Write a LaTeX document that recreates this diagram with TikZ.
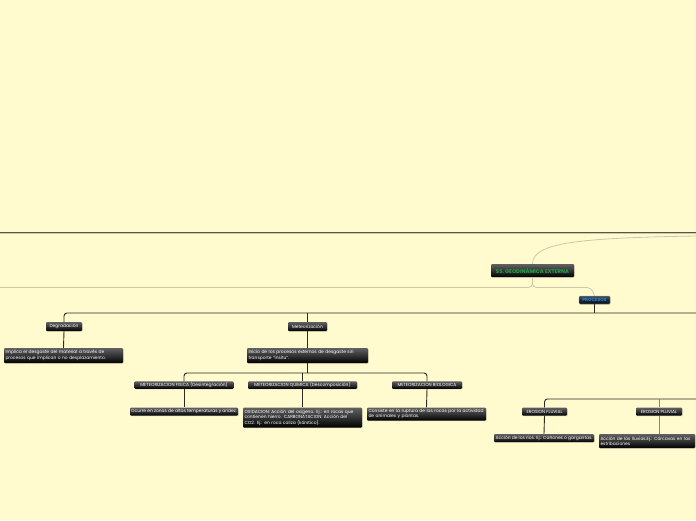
\documentclass[tikz,border=0pt]{standalone}
\usepackage{fontspec}
\setmainfont{Poppins}
\usetikzlibrary{shadows}
\hyphenpenalty=10000
\exhyphenpenalty=10000
\definecolor{bgc}{RGB}{255,251,206}
\definecolor{dline}{RGB}{45,44,34}
\definecolor{lline}{RGB}{204,200,168}
\definecolor{mline}{RGB}{140,136,112}
\definecolor{ssgreen}{RGB}{30,165,70}
\definecolor{procblue}{RGB}{40,130,205}
\definecolor{proctop}{RGB}{70,84,98}
\definecolor{procbot}{RGB}{12,18,26}
\tikzset{
  x=1pt, y=-1pt,
  box/.style={rectangle, rounded corners=1pt, inner sep=0pt, top color=black!62, bottom color=black, middle color=black!80,
    text=white, font=\fontsize{4.4}{5.4}\selectfont, align=left,
    drop shadow={opacity=0.35, shadow xshift=0.7pt, shadow yshift=-0.7pt}},
  wbox/.style={box, minimum width=#1, text width=#1-3pt},
  hbox/.style={box, minimum width=#1, align=center},
  darkln/.style={draw=dline, line width=0.9pt},
  lightln/.style={draw=lline, line width=0.8pt},
  midln/.style={draw=mline, line width=0.9pt},
}
\begin{document}
\begin{tikzpicture}
\fill[bgc] (0,0) rectangle (696,520);
\useasboundingbox (0,0) rectangle (696,520);

% top lines
\coordinate (tl) at (0,232);
\coordinate (tr) at (696,232);
\draw[draw=dline!80, line width=1pt] (tl) -- (tr);
\coordinate (tl2) at (0,233.6);
\coordinate (tr2) at (696,233.6);
\draw[lline, line width=0.6pt] (tl2) -- (tr2);

% nodes
\node[hbox=83pt, minimum height=13pt, text=ssgreen, font=\fontsize{5.3}{6}\selectfont\bfseries] (ss) at (532.5,270.5) {SS. GEODINÁMICA EXTERNA};
\node[hbox=31pt, minimum height=8pt, text=procblue, top color=proctop, bottom color=procbot, middle color=procbot!70!proctop, draw=proctop!60, line width=0.3pt, font=\fontsize{4.5}{5.4}\selectfont\bfseries] (proc) at (594.5,300) {PROCESOS};

\node[hbox=36pt, minimum height=9pt] (deg) at (64,326.5) {Degradación};
\node[wbox=119pt, minimum height=15pt] (degtxt) at (63.5,355.5) {Implica el desgaste del material a través de\\procesos que implican o no desplazamiento.};

\node[hbox=39pt, minimum height=9pt] (met) at (307.5,326.5) {Meteorización};
\node[wbox=121pt, minimum height=15pt] (mettxt) at (307.5,355.5) {Inicio de los procesos externos de desgaste sin\\transporte "insitu".};

\node[hbox=99pt, minimum height=7.5pt] (fis) at (184,385) {METEORIZACION FISICA (Desintegración)};
\node[hbox=108pt, minimum height=8pt] (fistxt) at (184,411.5) {Ocurre en zonas de altas temperaturas y aridez.};

\node[hbox=109pt, minimum height=7.5pt] (qui) at (302.5,385) {METEORIZACION QUIMICA (Descomposición)};
\node[wbox=119pt, minimum height=20pt] (quitxt) at (302.5,417.5) {OXIDACION: Acción del oxígeno. Ej.: en rocas que\\contienen hierro. CARBONATACION: Acción del\\CO2. Ej.: en roca caliza (kárstico).};

\node[hbox=70pt, minimum height=7.5pt] (bio) at (427,385) {METEORIZACION BIOLOGICA};
\node[wbox=119pt, minimum height=13pt] (biotxt) at (426.5,414) {Consiste en la ruptura de las rocas por la actividad\\de animales y plantas.};

\node[hbox=45pt, minimum height=8pt] (flu) at (544.5,411.5) {EROSION FLUVIAL};
\node[hbox=100pt, minimum height=8pt] (flutxt) at (544,438) {Acción de los ríos. Ej.: Cañones o gargantas.};

\node[hbox=46pt, minimum height=8pt] (plu) at (659,411.5) {EROSION PLUVIAL};
\node[wbox=96pt, minimum height=14pt] (plutxt) at (647,441) {Acción de las lluvias.Ej.: Cárcavas en las\\estribaciones};

% coordinates
\coordinate (rin) at (696,236);
\coordinate (lft) at (0,287.5);
\coordinate (hr1) at (696,313);
\coordinate (mj) at (307.5,373);
\coordinate (hr2) at (696,399);

% connectors
\draw[lightln] (rin) .. controls (575,238) and (533,243) .. (ss.north);
\draw[lightln, rounded corners=4pt] (ss.south) |- (lft);
\draw[lightln, rounded corners=4pt] (ss.south) |- (591,287.5) -- (proc.north);
\draw[darkln] (proc.south) -- (proc.south |- hr1);
\draw[darkln, rounded corners=3pt] (deg.north) |- (hr1);
\draw[darkln] (met.north) -- (met.north |- hr1);
\draw[darkln] (deg.south) -- (degtxt.north);
\draw[darkln] (met.south) -- (mettxt.north);
\draw[darkln] (mettxt.south) -- (mj);
\draw[darkln, rounded corners=3pt] (fis.north) |- (mj) -| (bio.north);
\draw[darkln] (qui.north) -- (qui.north |- mj);
\draw[darkln] (fis.south) -- (fistxt.north);
\draw[darkln] (qui.south) -- (quitxt.north);
\draw[darkln] (bio.south) -- (biotxt.north);
\draw[darkln, rounded corners=3pt] (flu.north) |- (hr2);
\draw[midln] (plu.north) -- (plu.north |- hr2);
\draw[darkln] (flu.south) -- (flutxt.north);
\draw[midln] (plu.south) -- (plu.south |- plutxt.north);
\end{tikzpicture}
\end{document}
